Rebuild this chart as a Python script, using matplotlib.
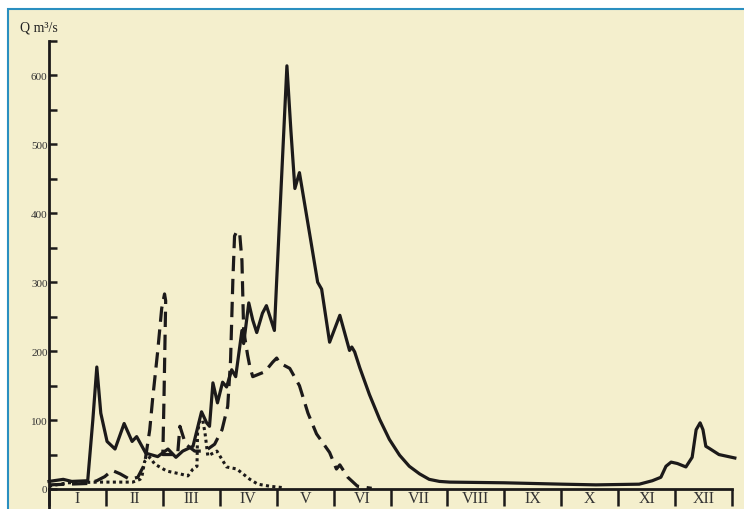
import matplotlib.pyplot as plt
from matplotlib.patches import Rectangle
import numpy as np

# months I..XII, x in month units (0 = start of January)
months = ['I', 'II', 'III', 'IV', 'V', 'VI', 'VII', 'VIII', 'IX', 'X', 'XI', 'XII']

# solid line
solid_x = [0.00, 0.25, 0.40, 0.68, 0.77, 0.84, 0.91, 1.02, 1.16, 1.32, 1.46, 1.54,
           1.70, 1.91, 2.09, 2.23, 2.35, 2.53, 2.68, 2.77, 2.82, 2.88, 2.96, 3.05,
           3.12, 3.21, 3.28, 3.39, 3.42, 3.51, 3.58, 3.65, 3.75, 3.82, 3.96, 4.00,
           4.18, 4.25, 4.32, 4.40, 4.60, 4.72, 4.79, 4.93, 5.11, 5.28, 5.32, 5.37,
           5.46, 5.63, 5.81, 5.98, 6.16, 6.33, 6.51, 6.68, 6.86, 7.04, 8.00, 9.02,
           9.61, 10.37, 10.60, 10.75, 10.84, 10.93, 11.04, 11.19, 11.30, 11.37,
           11.44, 11.49, 11.54, 11.60, 11.77, 12.05]
solid_q = [11, 14, 11, 12, 100, 177, 110, 69, 58, 95, 69, 76,
           52, 47, 58, 46, 55, 62, 112, 96, 91, 154, 125, 155,
           148, 173, 163, 230, 211, 270, 245, 227, 255, 266, 230, 302,
           614, 520, 436, 459, 360, 300, 290, 213, 252, 201, 206, 199,
           176, 137, 101, 72, 49, 33, 22, 14, 11, 10, 9, 7,
           6, 7, 12, 17, 33, 39, 37, 32, 46, 86,
           96, 86, 62, 59, 50, 45]

# dashed line
dash_x = [0.00, 0.68, 0.84, 0.98, 1.11, 1.25, 1.42, 1.56, 1.68, 1.77, 1.82, 1.91,
          1.98, 2.03, 2.05, 2.02, 2.00, 2.12, 2.26, 2.30, 2.40, 2.56, 2.74, 2.91,
          3.04, 3.14, 3.19, 3.23, 3.26, 3.30, 3.35, 3.39, 3.42, 3.49, 3.53, 3.58,
          3.79, 3.93, 4.00, 4.05, 4.23, 4.40, 4.55, 4.70, 4.93, 5.05, 5.11, 5.25,
          5.42, 5.67]
dash_q = [6, 8, 12, 18, 27, 22, 14, 17, 36, 86, 130, 200,
          262, 283, 273, 130, 50, 50, 50, 91, 65, 55, 55, 65,
          86, 120, 187, 302, 367, 374, 371, 331, 230, 194, 177, 163,
          170, 184, 190, 183, 175, 150, 110, 80, 53, 29, 35, 17,
          4, 1]

# dotted line
dot_x = [0.00, 0.32, 0.89, 1.47, 1.60, 1.63, 1.68, 1.77, 1.86, 2.07, 2.30, 2.44,
         2.53, 2.60, 2.61, 2.65, 2.70, 2.74, 2.79, 2.95, 3.12, 3.30, 3.53, 3.67,
         3.88, 4.11]
dot_q = [4, 9, 10, 10, 14, 17, 40, 46, 36, 26, 22, 19,
         29, 33, 82, 100, 100, 82, 48, 55, 32, 29, 14, 7,
         4, 2]

ink = '#1c1a1a'
cream = '#f4efcd'

fig = plt.figure(figsize=(7.44, 5.10), dpi=100)
fig.patch.set_facecolor('white')
bg = Rectangle((8 / 744, -0.1), 1.2, (500 / 510) + 0.1,
               transform=fig.transFigure, facecolor=cream,
               edgecolor='#2a8fc0', linewidth=1.5, zorder=-10)
fig.add_artist(bg)

ax = fig.add_axes([49 / 744, 20 / 510, (732 - 49) / 744, 448 / 510])
ax.set_facecolor('none')
ax.set_xlim(0, 12)
ax.set_ylim(0, 650)

for s in ['top', 'right']:
    ax.spines[s].set_visible(False)
ax.spines['left'].set_linewidth(2.0)
ax.spines['bottom'].set_linewidth(2.0)
ax.spines['left'].set_color(ink)
ax.spines['bottom'].set_color(ink)
ax.plot([0, 0], [-30, 0], color=ink, lw=2.0, clip_on=False)

# y ticks
ax.set_yticks(np.arange(0, 651, 50))
ax.set_yticklabels([str(v) if v % 100 == 0 and v <= 600 else '' for v in range(0, 651, 50)],
                   family='Liberation Serif', fontsize=8, color='#333333')
ax.tick_params(axis='y', direction='in', length=6, width=1.8, color=ink, pad=1)

# month boundaries and labels
ax.set_xticks(np.arange(0, 13))
ax.set_xticklabels([])
ax.tick_params(axis='x', which='major', direction='out', length=12, width=1.8, color=ink)
ax.set_xticks(np.arange(0.5, 12), minor=True)
ax.set_xticklabels(months, minor=True, family='Liberation Serif', fontsize=11.5, color='#333333')
ax.tick_params(axis='x', which='minor', length=0, pad=1)

ax.plot(solid_x, solid_q, color=ink, lw=2.3, solid_joinstyle='round', clip_on=False)
ax.plot(dash_x, dash_q, color=ink, lw=2.3, linestyle=(0, (4.8, 2.4)), clip_on=False)
ax.plot(dot_x, dot_q, color=ink, lw=2.2, linestyle=(0, (1, 1.1)), dash_capstyle='butt', clip_on=False)

fig.text(20 / 744, 1 - 28 / 510, 'Q m³/s', family='Liberation Serif', fontsize=10,
         color='#222222', va='center', ha='left')

fig.savefig('out.png', dpi=100)
